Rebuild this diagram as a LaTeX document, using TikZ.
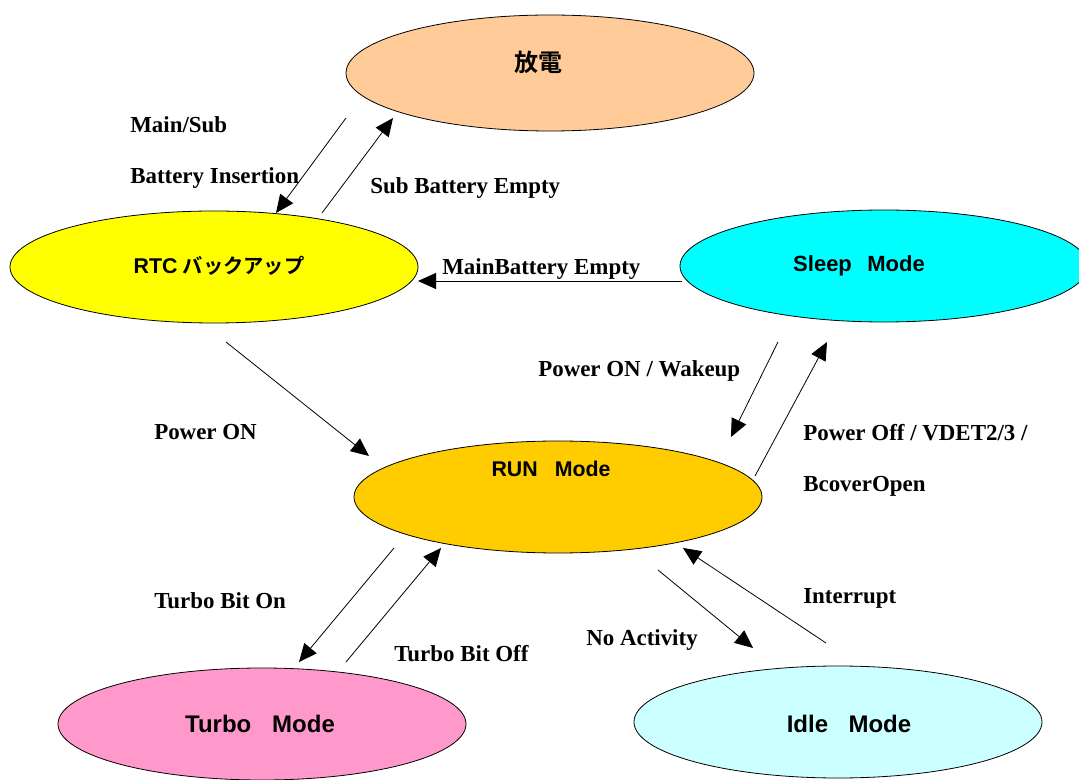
\documentclass[tikz,border=0pt]{standalone}
\usepackage{fontspec}
\setmainfont{Liberation Serif}
\newfontfamily\jpfont{Noto Sans CJK JP}[BoldFont={* Bold}]
\newfontfamily\nodefont{Liberation Sans}
\usetikzlibrary{shapes.geometric,arrows.meta}
\definecolor{cpeach}{HTML}{FFCC99}
\definecolor{cyel}{HTML}{FFFF00}
\definecolor{ccyan}{HTML}{00FFFF}
\definecolor{crun}{HTML}{FFCC00}
\definecolor{cpink}{HTML}{FF99CC}
\definecolor{cidle}{HTML}{CCFFFF}
\begin{document}
\begin{tikzpicture}[x=0.75pt,y=-0.75pt,
  state/.style={ellipse,draw=black,line width=0.6pt,inner sep=0pt,minimum width=306pt,minimum height=84pt},
  stext/.style={inner sep=0pt},
  lbl/.style={anchor=base west,inner sep=0pt,font=\fontsize{17.2}{19}\selectfont\bfseries},
  conn/.style={line width=0.6pt,-{Triangle[length=13.5pt,width=12pt]}}]
\useasboundingbox (0,0) rectangle (1079,780);
\clip (0,0) rectangle (1079,780);
% states
\node[state,fill=cpeach,minimum height=87pt] (hoden) at (550,73) {};
\node[state,fill=cyel] (rtc) at (214,267) {};
\node[state,fill=ccyan] (sleep) at (884,266) {};
\node[state,fill=crun] (run) at (558,497) {};
\node[state,fill=cpink] (turbo) at (262,724) {};
\node[state,fill=cidle] (idle) at (838,722) {};
% state texts
\node[stext] (thoden) at (538,62) {\jpfont\bfseries\fontsize{18}{20}\selectfont 放電};
\node[stext] (trtc) at (219,266) {\nodefont\bfseries\fontsize{16}{18}\selectfont RTC\hspace{0.25em}\jpfont\bfseries\fontsize{15.2}{16}\selectfont バックアップ};
\node[stext] (tsleep) at (859,266) {\nodefont\bfseries\fontsize{16.5}{19}\selectfont Sleep\hspace{0.7em}Mode};
\node[stext] (trun) at (551,469) {\nodefont\bfseries\fontsize{16}{19}\selectfont RUN\hspace{0.8em}Mode};
\node[stext] (tturbo) at (260,724) {\nodefont\bfseries\fontsize{18}{22}\selectfont Turbo\hspace{0.87em}Mode};
\node[stext] (tidle) at (849,724) {\nodefont\bfseries\fontsize{18}{22}\selectfont Idle\hspace{0.85em}Mode};
% connector end points
\coordinate (a1) at (346,118); \coordinate (a2) at (276,213);
\coordinate (b1) at (322,213); \coordinate (b2) at (393,118);
\coordinate (c1) at (682,281); \coordinate (c2) at (418,281);
\coordinate (d1) at (226,342); \coordinate (d2) at (369,456);
\coordinate (e1) at (778,342); \coordinate (e2) at (731,437);
\coordinate (f1) at (755,476); \coordinate (f2) at (827,342);
\coordinate (g1) at (394,548); \coordinate (g2) at (299,662);
\coordinate (h1) at (346,662); \coordinate (h2) at (441,548);
\coordinate (i1) at (658,570); \coordinate (i2) at (753,648);
\coordinate (j1) at (826,643); \coordinate (j2) at (683,548);
% connectors
\draw[conn] (a1) -- (a2);
\draw[conn] (b1) -- (b2);
\draw[conn] (c1) -- (c2);
\draw[conn] (d1) -- (d2);
\draw[conn] (e1) -- (e2);
\draw[conn] (f1) -- (f2);
\draw[conn] (g1) -- (g2);
\draw[conn] (h1) -- (h2);
\draw[conn] (i1) -- (i2);
\draw[conn] (j1) -- (j2);
% labels
\node[lbl] (l1) at (130,133) {Main/Sub};
\node[lbl] (l2) at (130,184) {Battery Insertion};
\node[lbl] (l3) at (370,194) {Sub Battery Empty};
\node[lbl] (l4) at (442,275) {MainBattery Empty};
\node[lbl] (l5) at (154,440) {Power ON};
\node[lbl] (l6) at (538,377) {Power ON / Wakeup};
\node[lbl] (l7) at (803,441) {Power Off / VDET2/3 /};
\node[lbl] (l8) at (803,492) {BcoverOpen};
\node[lbl] (l9) at (154,609) {Turbo Bit On};
\node[lbl] (l10) at (394,661) {Turbo Bit Off};
\node[lbl] (l11) at (586,645) {No Activity};
\node[lbl] (l12) at (803,604) {Interrupt};
\end{tikzpicture}
\end{document}
